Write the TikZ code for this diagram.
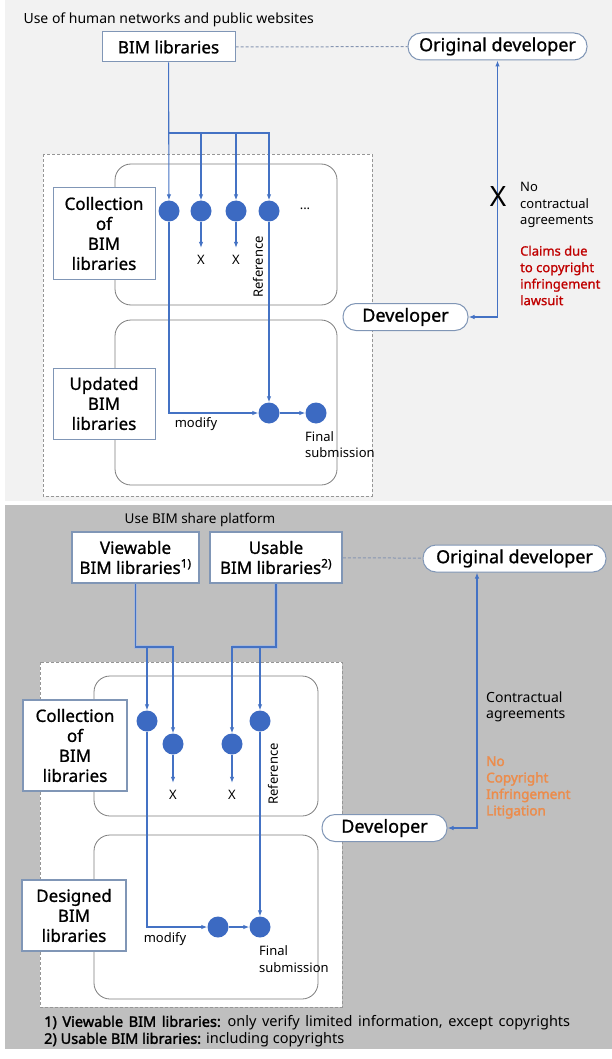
\documentclass[tikz,border=0pt]{standalone}
\usepackage{fontspec}
\setmainfont{Noto Sans}
\newfontfamily\boxfont[FakeBold=1]{Noto Sans}
\newfontfamily\heavyfont[FakeBold=2]{Noto Sans}
\usetikzlibrary{arrows.meta}

\definecolor{linkblue}{RGB}{68,114,196}
\definecolor{halo}{RGB}{168,184,214}
\definecolor{dotblue}{RGB}{60,106,194}
\definecolor{boxedge}{RGB}{128,150,182}
\definecolor{roundedge}{RGB}{125,125,125}
\definecolor{dashgray}{RGB}{150,150,150}
\definecolor{dashblue}{RGB}{135,150,178}
\definecolor{topbg}{RGB}{242,242,242}
\definecolor{botbg}{RGB}{191,191,191}
\definecolor{claimred}{RGB}{192,0,0}
\definecolor{litorange}{RGB}{236,140,76}

\tikzset{
  libbox/.style={draw=boxedge, line width=1pt, fill=white, align=center,
    inner sep=0pt, font=\boxfont\fontsize{17}{20}\selectfont},
  devbox/.style={draw=boxedge, line width=1pt, fill=white, rounded corners=13pt,
    minimum height=27pt, inner sep=0pt, font=\boxfont\fontsize{18}{20}\selectfont},
  dot/.style={circle, fill=dotblue, minimum size=21pt, inner sep=0pt},
  link/.style={draw=linkblue, line width=1.1pt, -{Latex[length=6pt,width=4.5pt]}},
  stem/.style={draw=halo, line width=3.6pt, postaction={draw=linkblue, line width=1.4pt}},
  dashlink/.style={draw=dashblue, line width=1pt, dash pattern=on 3pt off 2pt},
  roundbox/.style={draw=roundedge, line width=0.8pt, fill=white, rounded corners=16pt},
  outerbox/.style={draw=dashgray, line width=0.8pt, fill=white, dash pattern=on 3pt off 2pt},
  small/.style={font=\fontsize{13}{16.5}\selectfont},
  smallb/.style={font=\fontsize{14}{16.5}\selectfont},
}

\begin{document}
\begin{tikzpicture}[x=1pt,y=-1pt]
  \useasboundingbox (0,0) rectangle (612,1059);
  \fill[white] (0,0) rectangle (612,1059);

  % ---- upper panel: human networks ----
  \fill[topbg] (5,0) rectangle (612,501);
  \node[smallb, anchor=west] (ttop) at (20,20) {Use of human networks and public websites};

  \draw[outerbox] (43,154) rectangle (372,496);
  \draw[roundbox] (115,164) rectangle (337,305);
  \draw[roundbox] (115,320) rectangle (337,485);

  \node[libbox, minimum width=133pt, minimum height=30pt] (lib) at (168.5,47) {BIM libraries};
  \node[devbox, minimum width=179pt] (orig) at (497.5,46.5) {Original developer};
  \node[devbox, minimum width=125pt] (dev) at (405.5,317) {Developer};

  \node[dot] (d1) at (169,211) {};
  \node[dot] (d2) at (201,211) {};
  \node[dot] (d3) at (236,211) {};
  \node[dot] (d4) at (269,211) {};
  \node[small] (more) at (305,209) {...};
  \node[dot] (da) at (269,413) {};
  \node[dot] (db) at (316,413) {};

  \node[small] (xa) at (201,260) {X};
  \node[small] (xb) at (236,260) {X};
  \node[small, rotate=90] (reft) at (258,267) {Reference};
  \node[small] (modt) at (196,424) {modify};
  \node[small, align=left, anchor=west, inner sep=0pt] (fint) at (305,444.5) {Final\\submission};

  \coordinate (jt) at (169,133);
  \draw[dashlink] (lib) -- (orig);
  \draw[link] (lib) -- (d1);
  \draw[link] (jt) -| (d2);
  \draw[link] (jt) -| (d3);
  \draw[link] (jt) -| (d4);
  \draw[link, shorten >=4pt] (d2) -- (xa);
  \draw[link, shorten >=4pt] (d3) -- (xb);
  \draw[link] (d4) -- (da);
  \draw[link] (d1) |- (da);
  \draw[link] (da) -- (db);
  \draw[link, {Latex[length=6pt,width=4.5pt]}-{Latex[length=6pt,width=4.5pt]}] (dev.east) -| (orig.south);

  \node[libbox, minimum width=102pt, minimum height=91pt] (coll) at (104,233.5) {Collection\\of\\BIM\\libraries};
  \node[libbox, minimum width=102pt, minimum height=71pt] (upd) at (104,403.5) {Updated\\BIM\\libraries};

  \node[font=\fontsize{28}{28}\selectfont] (nox) at (498,197) {X};
  \node[small, align=left, anchor=west, inner sep=0pt] (noc) at (520,205) {No\\contractual\\agreements};
  \node[align=left, anchor=west, inner sep=0pt, text=claimred, font=\boxfont\fontsize{13}{16.5}\selectfont] (claim) at (520,275.5) {Claims due\\to copyright\\infringement\\lawsuit};

  % ---- lower panel: BIM share platform ----
  \fill[botbg] (5,505) rectangle (612,1049);
  \node[font=\fontsize{13.5}{16.5}\selectfont] (tbot) at (200,520) {Use BIM share platform};

  \draw[outerbox] (40,662) rectangle (342,1007);
  \draw[roundbox] (94,676) rectangle (318,816);
  \draw[roundbox] (94,835) rectangle (318,999);

  \node[libbox, line width=1.8pt, minimum width=127pt, minimum height=51pt] (vis) at (135.5,557.5) {Viewable\\BIM libraries\textsuperscript{1)}};
  \node[libbox, line width=1.8pt, minimum width=132pt, minimum height=51pt] (usb) at (276,557.5) {Usable\\BIM libraries\textsuperscript{2)}};
  \node[devbox, minimum width=183pt] (orig2) at (514.5,558.5) {Original developer};
  \node[devbox, minimum width=125pt] (dev2) at (384.5,828) {Developer};

  \node[dot] (e1) at (147,721) {};
  \node[dot] (e2) at (173,744) {};
  \node[dot] (e3) at (232,744) {};
  \node[dot] (e4) at (260,721) {};
  \node[dot] (ea) at (218,927) {};
  \node[dot] (eb) at (260,927) {};

  \node[small] (ya) at (173,795) {X};
  \node[small] (yb) at (232,795) {X};
  \node[small, rotate=90] (refb) at (273,774) {Reference};
  \node[small] (modb) at (165,939) {modify};
  \node[small, align=left, anchor=west, inner sep=0pt] (finb) at (259,959) {Final\\submission};

  \coordinate (jv) at (135.5,647);
  \coordinate (ju) at (276,647);
  \coordinate (cb) at (477,828);
  \draw[dashlink] (usb) -- (orig2);
  \draw[stem] (vis) -- (jv) -- (173,647);
  \draw[stem] (usb) -- (ju) -- (232,647);
  \draw[link] (jv) -| (e1);
  \draw[link] (jv) -| (e2);
  \draw[link] (ju) -| (e3);
  \draw[link] (ju) -| (e4);
  \draw[link, shorten >=4pt] (e2) -- (ya);
  \draw[link, shorten >=4pt] (e3) -- (yb);
  \draw[link] (e4) -- (eb);
  \draw[link] (e1) |- (ea);
  \draw[link] (ea) -- (eb);
  \draw[link, {Latex[length=6pt,width=4.5pt]}-{Latex[length=6pt,width=4.5pt]}] (dev2.east) -- (cb) -- (cb |- orig2.south);

  \node[libbox, line width=1.8pt, minimum width=104pt, minimum height=91pt] (coll2) at (75,745.5) {Collection\\of\\BIM\\libraries};
  \node[libbox, line width=1.8pt, minimum width=104pt, minimum height=71pt] (des) at (74,915.5) {Designed\\BIM\\libraries};

  \node[smallb, align=left, anchor=west, inner sep=0pt] (ctr) at (486,707) {Contractual\\agreements};
  \node[align=left, anchor=west, inner sep=0pt, text=litorange, font=\heavyfont\fontsize{13.5}{16.5}\selectfont] (nolit) at (486,787.5) {No\\Copyright\\Infringement\\Litigation};

  \node[align=left, anchor=west, inner sep=0pt, font=\fontsize{14.5}{17}\selectfont] (notes) at (44,1031.5) {\spaceskip=5.6pt {\heavyfont 1) Viewable BIM libraries:} only verify limited information, except copyrights\\{\heavyfont 2) Usable BIM libraries:} including copyrights};
\end{tikzpicture}
\end{document}
